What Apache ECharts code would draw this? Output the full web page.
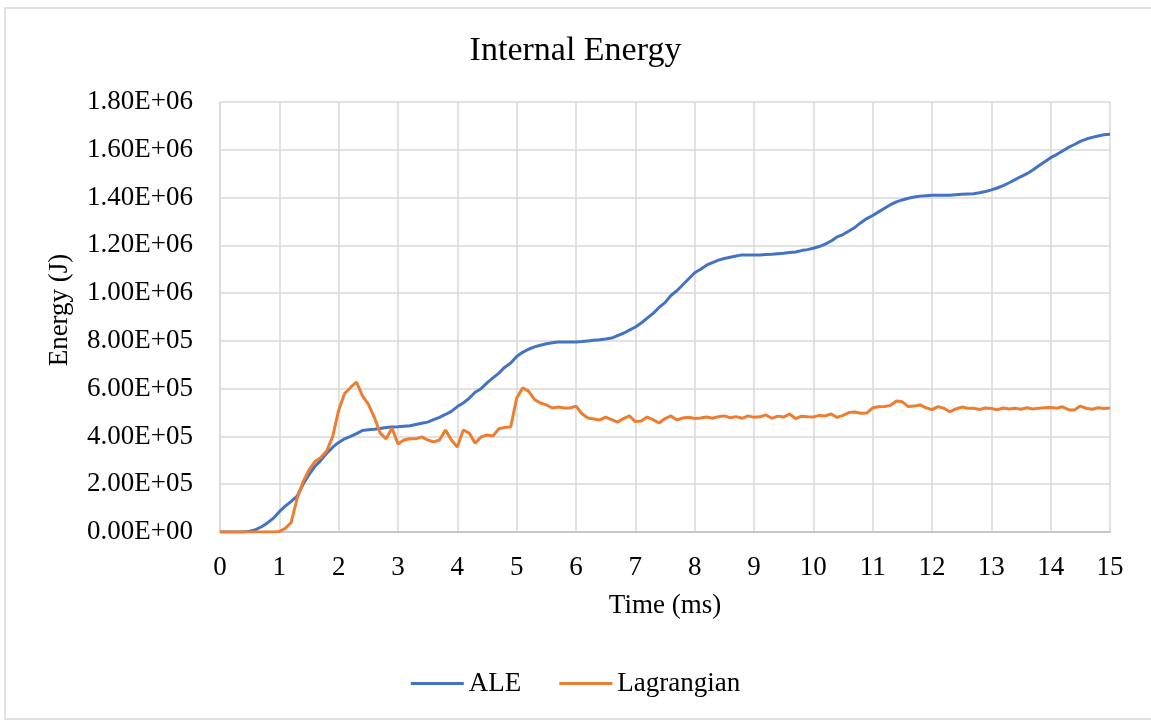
<!DOCTYPE html>
<html>
<head>
<meta charset="utf-8">
<script src="https://cdn.jsdelivr.net/npm/echarts@6/dist/echarts.min.js"></script>
<style>
  html, body { margin: 0; padding: 0; background: #fff; }
  #chart { width: 1151px; height: 720px; }
</style>
</head>
<body>
<div id="chart"></div>
<script>
// time in ms, every 0.1 ms
const times = [];
for (let i = 0; i <= 150; i++) times.push(+(i / 10).toFixed(1));

// Internal energy (J)
const aleEnergy = [
  0, 0, 0, 0, 0, 3000, 10000, 22000, 38000, 58000,
  85000, 108000, 128000, 150000, 200000, 240000, 275000, 300000, 330000, 355000,
  375000, 390000, 400000, 412000, 425000, 428000, 430000, 433000, 437000, 440000,
  441000, 443000, 445000, 450000, 455000, 460000, 470000, 480000, 492000, 505000,
  525000, 540000, 560000, 585000, 600000, 624000, 645000, 665000, 690000, 707000,
  735000, 752000, 765000, 775000, 782000, 788000, 792000, 795000, 795000, 795000,
  795000, 797000, 800000, 803000, 805000, 808000, 812000, 822000, 832000, 845000,
  858000, 875000, 895000, 915000, 940000, 960000, 990000, 1010000, 1035000, 1060000,
  1085000, 1100000, 1117000, 1128000, 1138000, 1145000, 1150000, 1155000, 1160000, 1160000,
  1160000, 1160000, 1162000, 1163000, 1165000, 1167000, 1170000, 1172000, 1178000, 1182000,
  1188000, 1195000, 1205000, 1218000, 1235000, 1245000, 1260000, 1275000, 1295000, 1312000,
  1325000, 1340000, 1355000, 1370000, 1382000, 1390000, 1397000, 1402000, 1406000, 1408000,
  1410000, 1410000, 1410000, 1410000, 1412000, 1414000, 1415000, 1416000, 1420000, 1425000,
  1432000, 1440000, 1450000, 1462000, 1475000, 1488000, 1500000, 1515000, 1533000, 1550000,
  1567000, 1580000, 1595000, 1610000, 1622000, 1635000, 1645000, 1652000, 1658000, 1663000,
  1665000
];

const lagEnergy = [
  0, 0, 0, 0, 0, 0, 0, 0, 0, 0,
  2000, 15000, 40000, 140000, 210000, 260000, 295000, 312000, 340000, 400000,
  510000, 580000, 605000, 628000, 570000, 535000, 480000, 414000, 390000, 435000,
  368000, 385000, 390000, 390000, 398000, 385000, 377000, 385000, 427000, 385000,
  356000, 427000, 414000, 372000, 398000, 406000, 402000, 432000, 438000, 440000,
  560000, 603000, 590000, 555000, 540000, 532000, 519000, 523000, 519000, 519000,
  527000, 495000, 477000, 473000, 469000, 481000, 470000, 460000, 475000, 486000,
  462000, 465000, 481000, 470000, 456000, 475000, 486000, 469000, 477000, 480000,
  475000, 477000, 481000, 476000, 483000, 486000, 478000, 483000, 476000, 486000,
  480000, 482000, 490000, 476000, 485000, 481000, 494000, 475000, 485000, 482000,
  481000, 488000, 486000, 494000, 480000, 488000, 500000, 502000, 497000, 498000,
  520000, 524000, 525000, 530000, 548000, 545000, 525000, 527000, 532000, 520000,
  512000, 525000, 518000, 503000, 515000, 523000, 518000, 518000, 513000, 519000,
  517000, 512000, 519000, 515000, 518000, 514000, 520000, 515000, 518000, 520000,
  521000, 518000, 524000, 512000, 511000, 527000, 518000, 514000, 520000, 517000,
  519000
];

const seriesNames = ['ALE', 'Lagrangian'];
const seriesColors = ['#4472C4', '#ED7D31'];

const FONT = '"Liberation Serif", "DejaVu Serif", serif';

function sci(v) {
  if (v === 0) return '0.00E+00';
  const exp = Math.floor(Math.log10(Math.abs(v)) + 1e-9);
  const mant = v / Math.pow(10, exp);
  return mant.toFixed(2) + 'E+' + String(exp).padStart(2, '0');
}

const pairs = arr => times.map((t, i) => [t, arr[i]]);

const chart = echarts.init(document.getElementById('chart'));
chart.setOption({
  animation: false,
  backgroundColor: '#fff',
  textStyle: { fontFamily: FONT, color: '#000' },
  graphic: [{
    type: 'rect',
    shape: { x: 5, y: 8, width: 1160, height: 711 },
    style: { fill: 'none', stroke: '#d9d9d9', lineWidth: 1.5 },
    silent: true
  }],
  title: {
    text: 'Internal Energy',
    left: 'center',
    top: 29,
    textStyle: { fontFamily: FONT, fontSize: 34, fontWeight: 'normal', color: '#000' }
  },
  legend: {
    top: 665,
    left: 'center',
    icon: 'rect',
    itemWidth: 53,
    itemHeight: 3,
    itemGap: 38,
    textStyle: { fontFamily: FONT, fontSize: 27, color: '#000' },
    data: seriesNames
  },
  grid: { left: 220, right: 41, top: 102, bottom: 188 },
  xAxis: {
    type: 'value',
    min: 0,
    max: 15,
    interval: 1,
    name: 'Time (ms)',
    nameLocation: 'middle',
    nameGap: 60,
    nameTextStyle: { fontFamily: FONT, fontSize: 27, color: '#000' },
    axisLine: { show: true, lineStyle: { color: '#bfbfbf', width: 1.5 } },
    axisTick: { show: false },
    axisLabel: { fontFamily: FONT, fontSize: 27, color: '#000', margin: 22 },
    splitLine: { show: true, lineStyle: { color: '#d9d9d9', width: 1.5 } }
  },
  yAxis: {
    type: 'value',
    min: 0,
    max: 1800000,
    interval: 200000,
    name: 'Energy (J)',
    nameLocation: 'middle',
    nameGap: 147,
    nameRotate: 90,
    nameTextStyle: { fontFamily: FONT, fontSize: 27, color: '#000', padding: [0, 0, 0, 14] },
    axisLine: { show: true, lineStyle: { color: '#d9d9d9', width: 1.5 } },
    axisTick: { show: false },
    axisLabel: { fontFamily: FONT, fontSize: 27, color: '#000', margin: 27, formatter: sci },
    splitLine: { show: true, lineStyle: { color: '#d9d9d9', width: 1.5 } }
  },
  series: [
    {
      name: seriesNames[0],
      type: 'line',
      data: pairs(aleEnergy),
      showSymbol: false,
      color: seriesColors[0],
      lineStyle: { width: 3, color: seriesColors[0] }
    },
    {
      name: seriesNames[1],
      type: 'line',
      data: pairs(lagEnergy),
      showSymbol: false,
      color: seriesColors[1],
      lineStyle: { width: 3, color: seriesColors[1] }
    }
  ]
});
</script>
</body>
</html>
